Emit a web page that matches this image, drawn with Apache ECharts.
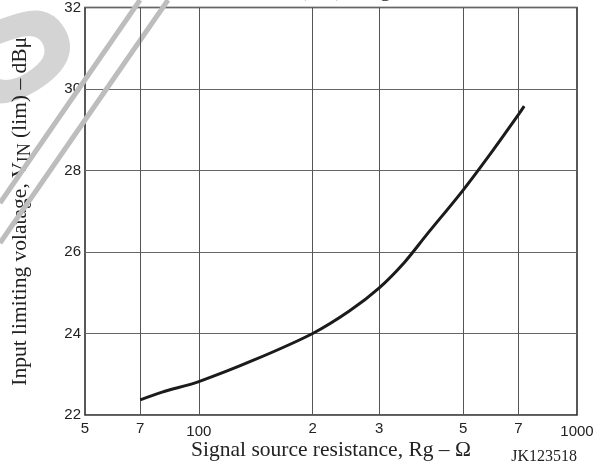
<!DOCTYPE html>
<html>
<head>
<meta charset="utf-8">
<script src="https://cdn.jsdelivr.net/npm/echarts@6/dist/echarts.min.js"></script>
<style>
  html, body { margin: 0; padding: 0; background: #fff; }
  #chart { width: 603px; height: 468px; }
</style>
</head>
<body>
<div id="chart"></div>
<script>
// Signal source resistance (ohm) and input limiting voltage (dBμ)
const resistance = [70, 80, 100, 140, 200, 250, 300, 350, 400, 500, 600, 700, 725];
const vinLim     = [22.37, 22.56, 22.82, 23.35, 24.0, 24.55, 25.12, 25.75, 26.42, 27.52, 28.5, 29.37, 29.58];

// Decade grid positions on the log axis and their printed labels
const xGridValues = [70, 100, 200, 300, 500, 700];
const xTickValues = [50, 70, 100, 200, 300, 500, 700, 1000];
const xTickLabels = ['5', '7', '100', '2', '3', '5', '7', '1000'];

const serif = '"Liberation Serif", "DejaVu Serif", serif';
const sans = '"Liberation Sans", Arial, sans-serif';

const chart = echarts.init(document.getElementById('chart'), null, { renderer: 'canvas' });

chart.setOption({
  animation: false,
  backgroundColor: '#fff',
  grid: {
    left: 85, right: 26, top: 7.5, bottom: 53,
    outerBoundsMode: 'none',
    containLabel: false,
    show: true, borderColor: '#222', borderWidth: 1.5, backgroundColor: 'transparent'
  },
  xAxis: {
    type: 'log', logBase: 10, min: 50, max: 1000,
    axisLine: { show: false },
    axisTick: { show: false },
    splitLine: { show: false },
    minorSplitLine: { show: false },
    name: 'Signal source resistance, Rg – Ω',
    nameLocation: 'middle',
    nameMoveOverlap: false,
    nameGap: 24,
    nameTextStyle: { fontFamily: serif, fontSize: 21.5, color: '#222' },
    axisLabel: {
      customValues: xTickValues,
      margin: 6,
      fontFamily: sans, fontSize: 15, color: '#222',
      formatter: function (v) {
        const i = xTickValues.findIndex(t => Math.abs(t - v) < 1e-6 * t);
        const s = i >= 0 ? xTickLabels[i] : '';
        return (s.length > 1) ? '{b|' + s + '}' : s;
      },
      rich: { b: { fontFamily: sans, fontSize: 15, color: '#222', padding: [3, 0, 0, 0] } }
    }
  },
  yAxis: {
    type: 'value', min: 22, max: 32, interval: 2,
    axisLine: { show: false },
    axisTick: { show: false },
    splitLine: { show: true, lineStyle: { color: '#666', width: 1 } },
    axisLabel: { fontFamily: sans, fontSize: 15, color: '#222', margin: 4 },
    name: 'Input limiting volatage, V{sub|IN} (lim) – dBμ',
    nameLocation: 'middle',
    nameMoveOverlap: false,
    nameGap: 51,
    nameTextStyle: {
      fontFamily: serif, fontSize: 21.5, color: '#222',
      rich: {
        sub: { fontFamily: serif, fontSize: 18, color: '#222', verticalAlign: 'bottom', lineHeight: 28, padding: [8, 0, 0, 0] }
      }
    }
  },
  series: [{
    type: 'line',
    data: resistance.map((r, i) => [r, vinLim[i]]),
    smooth: 0.3,
    symbol: 'none',
    lineStyle: { color: '#1b1b1b', width: 3 },
    z: 5,
    markLine: {
      silent: true,
      symbol: 'none',
      label: { show: false },
      lineStyle: { color: '#555', type: 'solid', width: 1 },
      data: xGridValues.map(v => ({ xAxis: v }))
    }
  }],
  graphic: [
    // light grey watermark strokes
    { type: 'text', left: -95, top: -70, rotation: 0.55, z: -1,
      style: { text: 'S', font: 'bold 190px "Liberation Sans", sans-serif', fill: '#d4d4d4' } },
    { type: 'line', z: 1, shape: { x1: 0, y1: 203, x2: 140, y2: 0 },
      style: { stroke: '#bdbdbd', lineWidth: 5 } },
    { type: 'line', z: 1, shape: { x1: 0, y1: 243, x2: 168, y2: 0 },
      style: { stroke: '#bdbdbd', lineWidth: 5 } },
    // chart heading, mostly above the top edge
    { type: 'text', x: 299, y: 1, z: 10,
      style: { text: '(lim) – Rg', font: '22px "Liberation Serif", serif', fill: '#222',
               textAlign: 'left', textVerticalAlign: 'bottom' } },
    // drawing reference
    { type: 'text', x: 577, y: 457, z: 10,
      style: { text: 'JK123518', font: '16px "Liberation Serif", serif', fill: '#222',
               textAlign: 'right', textVerticalAlign: 'middle' } }
  ]
});
</script>
</body>
</html>
